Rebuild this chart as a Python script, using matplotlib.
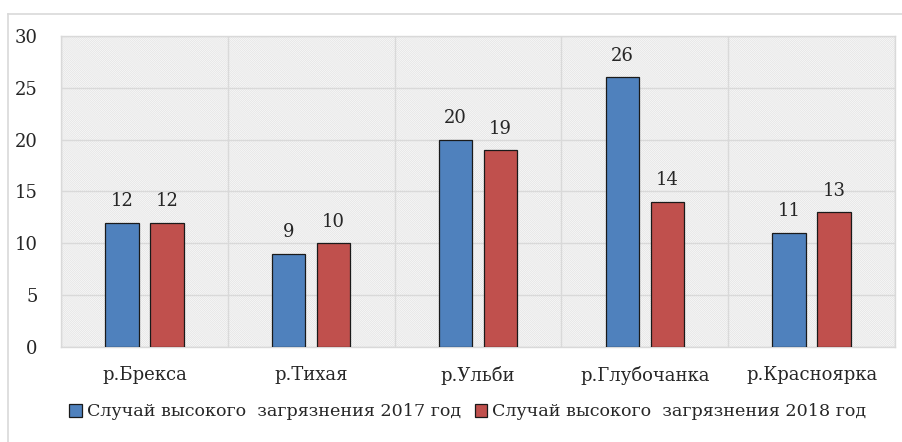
import numpy as np
import matplotlib.pyplot as plt
from matplotlib.patches import Rectangle, Patch
from matplotlib.lines import Line2D

rivers = ["р.Брекса", "р.Тихая", "р.Ульби", "р.Глубочанка", "р.Красноярка"]
cases_2017 = [12, 9, 20, 26, 11]
cases_2018 = [12, 10, 19, 14, 13]
series_names = ["Случай высокого  загрязнения 2017 год", "Случай высокого  загрязнения 2018 год"]
y_ticks = [0, 5, 10, 15, 20, 25, 30]

plt.rcParams['font.family'] = ['DejaVu Serif']
plt.rcParams['hatch.linewidth'] = 0.6

blue = '#4F81BD'
red = '#C0504D'
text_col = '#262626'

fig = plt.figure(figsize=(9.02, 4.42), dpi=100)
ax = fig.add_axes([61 / 902, 1 - 347 / 442, 834 / 902, 311 / 442])

# outer chart border
fig.add_artist(Line2D([8 / 902, 1.0], [1 - 14 / 442] * 2, color='#d9d9d9', lw=1.2,
                      transform=fig.transFigure))
fig.add_artist(Line2D([8 / 902] * 2, [0.0, 1 - 14 / 442], color='#d9d9d9', lw=1.2,
                      transform=fig.transFigure))

# hatched plot area
ax.add_patch(Rectangle((0, 0), 1, 1, transform=ax.transAxes, facecolor='white',
                       edgecolor='#e4e4e4', lw=0, hatch='\\' * 17, zorder=0))

x = np.arange(len(rivers))
w = 0.2
off = 0.135
b1 = ax.bar(x - off, cases_2017, w, color=blue, edgecolor='#1a1a1a', linewidth=0.9, zorder=3)
b2 = ax.bar(x + off, cases_2018, w, color=red, edgecolor='#1a1a1a', linewidth=0.9, zorder=3)

for bars in (b1, b2):
    for b in bars:
        ax.annotate(f"{int(b.get_height())}", (b.get_x() + b.get_width() / 2, b.get_height()),
                    xytext=(0, 9), textcoords='offset points', ha='center', va='bottom',
                    fontsize=13, color=text_col)

ax.set_xlim(-0.5, len(rivers) - 0.5)
ax.set_ylim(0, 30)
ax.set_yticks(y_ticks)
ax.set_xticks(x)
ax.set_xticklabels(rivers)
ax.set_xticks(np.arange(len(rivers) + 1) - 0.5, minor=True)
ax.tick_params(axis='x', which='both', length=0, pad=14, labelsize=13, colors=text_col)
ax.tick_params(axis='y', length=0, pad=17, labelsize=13, colors=text_col)

ax.grid(axis='y', color='#d9d9d9', lw=1, zorder=1)
ax.grid(axis='x', which='minor', color='#d9d9d9', lw=1, zorder=1)
ax.set_axisbelow(True)
for s in ax.spines.values():
    s.set_color('#d9d9d9')
    s.set_linewidth(1)

handles = [Patch(facecolor=blue, edgecolor='#1a1a1a', lw=0.9),
           Patch(facecolor=red, edgecolor='#1a1a1a', lw=0.9)]
fig.legend(handles, series_names, loc='center', bbox_to_anchor=(468 / 902, 1 - 412 / 442),
           ncol=2, frameon=False, fontsize=12.6, handlelength=0.7, handleheight=0.7,
           handletextpad=0.3, columnspacing=0.8, labelcolor=text_col)

fig.savefig('out.png', dpi=100)
